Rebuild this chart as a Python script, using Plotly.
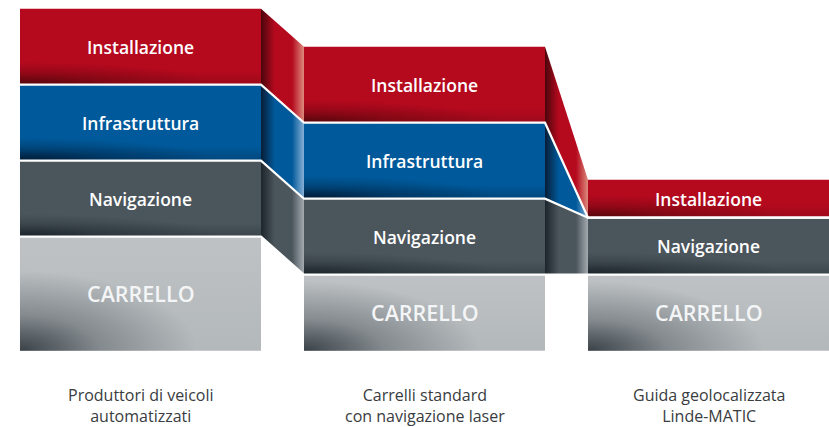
import numpy as np
import plotly.graph_objects as go

# ---------------- data ----------------
columns = [
    "Produttori di veicoli<br>automatizzati",
    "Carrelli standard<br>con navigazione laser",
    "Guida geolocalizzata<br>Linde-MATIC",
]
segments = ["CARRELLO", "Navigazione", "Infrastruttura", "Installazione"]
carrello = [1.5, 1.0, 1.0]
navigazione = [1.0, 1.0, 0.75]
infrastruttura = [1.0, 1.0, 0.0]
installazione = [1.0, 1.0, 0.5]
series = [carrello, navigazione, infrastruttura, installazione]

# ---------------- style ----------------
STYLE = {
    "CARRELLO": dict(base="#bec2c5", bottom="#b3b8bb", glow=(52, 60, 66), glow_a=0.95,
                     rx=0.62, ry=1.05, cdark="#2a3136", clight="#c8ccce"),
    "Navigazione": dict(base="#4b555c", bottom="#3a444b", glow=(22, 32, 38), glow_a=0.9,
                        rx=0.7, ry=0.3, cdark="#1c252b", clight="#a3abb0"),
    "Infrastruttura": dict(base="#00599a", bottom="#00477d", glow=(0, 22, 45), glow_a=0.9,
                           rx=0.7, ry=0.3, cdark="#081d36", clight="#86afd6"),
    "Installazione": dict(base="#b5091e", bottom="#9c0a1a", glow=(78, 5, 10), glow_a=0.9,
                          rx=0.7, ry=0.3, cdark="#4a060c", clight="#dc8a7c"),
}
H = 0.4243          # half bar width (column pitch = 1)
UNIT_PX = 76.0      # vertical pixels per data unit (for shading proportions)


def rgba(rgb, a):
    return "rgba(%d,%d,%d,%.3f)" % (rgb[0], rgb[1], rgb[2], a)


fig = go.Figure()

n = len(columns)
cum = np.zeros(n)
bounds = []  # (bottom array, top array) per segment
for vals in series:
    b = cum.copy()
    t = cum + np.array(vals, dtype=float)
    bounds.append((b, t))
    cum = t

# bars
for k, name in enumerate(segments):
    st = STYLE[name]
    b, t = bounds[k]
    for i in range(n):
        h = t[i] - b[i]
        if h <= 0:
            continue
        L, R = i - H, i + H
        if name == "CARRELLO":
            cs = [[0, st["bottom"]], [1, st["base"]]]
        else:
            frac = min(0.9, (14.0 / UNIT_PX) / h)
            cs = [[0, st["bottom"]], [frac, st["base"]], [1, st["base"]]]
        fig.add_trace(go.Scatter(
            x=[L, R, R, L, L], y=[b[i], b[i], t[i], t[i], b[i]],
            mode="lines", fill="toself", fillcolor=st["base"],
            fillgradient=dict(type="vertical", colorscale=cs),
            line=dict(width=0, color=st["base"]), hoverinfo="skip", showlegend=False))
        # dark corner glow (bottom-left), radial gradient centred on the corner
        rx = min(st["rx"], 2 * H)
        ry = min(st["ry"], h * 0.95) if name != "CARRELLO" else min(st["ry"], h * 0.92)
        xc, yc = L, b[i]
        th = np.linspace(0, np.pi / 2, 30)
        ex = xc + rx * np.cos(th)
        ey = yc + ry * np.sin(th)
        xs = [xc, xc - rx, xc, xc, xc] + list(ex) + [xc]
        ys = [yc, yc, yc, yc - ry, yc] + list(ey) + [yc]
        a = st["glow_a"]
        fig.add_trace(go.Scatter(
            x=xs, y=ys, mode="lines", fill="toself",
            fillcolor=rgba(st["glow"], 0),
            fillgradient=dict(type="radial", colorscale=[
                [0, rgba(st["glow"], a)], [0.45, rgba(st["glow"], a * 0.4)],
                [1, rgba(st["glow"], 0)]]),
            line=dict(width=0, simplify=False), hoverinfo="skip", showlegend=False))

# connectors between columns
for k, name in enumerate(segments):
    if name == "CARRELLO":
        continue
    st = STYLE[name]
    b, t = bounds[k]
    for i in range(n - 1):
        x0, x1 = i + H, i + 1 - H
        if (t[i] - b[i]) <= 0 and (t[i + 1] - b[i + 1]) <= 0:
            continue
        fig.add_trace(go.Scatter(
            x=[x0, x1, x1, x0, x0], y=[b[i], b[i + 1], t[i + 1], t[i], b[i]],
            mode="lines", fill="toself", fillcolor=st["base"],
            fillgradient=dict(type="horizontal", colorscale=[
                [0, st["cdark"]], [0.32, st["base"]], [0.72, st["base"]], [1, st["clight"]]]),
            line=dict(width=0, color=st["base"]), hoverinfo="skip", showlegend=False))

# white separators
for k in range(1, len(segments)):
    b, _ = bounds[k]
    xs, ys = [], []
    for i in range(n):
        xs += [i - H, i + H]
        ys += [b[i], b[i]]
    fig.add_trace(go.Scatter(x=xs, y=ys, mode="lines",
                             line=dict(color="white", width=2.2),
                             hoverinfo="skip", showlegend=False))

# segment labels
for k, name in enumerate(segments):
    b, t = bounds[k]
    for i in range(n):
        if t[i] - b[i] <= 0:
            continue
        big = name == "CARRELLO"
        fig.add_annotation(
            x=i, y=(b[i] + t[i]) / 2, text=name, showarrow=False,
            font=dict(family="Open Sans", size=21.5 if big else 17.5,
                      color="#f4f5f6" if big else "white", weight=600),
            xanchor="center", yanchor="middle")

# column labels
for i, lab in enumerate(columns):
    fig.add_annotation(
        x=i, y=-0.725, text=lab, showarrow=False,
        font=dict(family="Open Sans", size=16, color="#393c40"),
        xanchor="center", yanchor="middle", align="center")

fig.update_layout(
    width=829, height=427, margin=dict(l=0, r=0, t=0, b=0),
    paper_bgcolor="white", plot_bgcolor="white", showlegend=False,
    xaxis=dict(range=[-0.4947, 2.4243], visible=False, fixedrange=True),
    yaxis=dict(range=[-1.0039, 4.6145], visible=False, fixedrange=True),
)

fig.write_html("out.html", config={"displayModeBar": False},
               post_script="document.body.style.margin='0';document.body.style.overflow='hidden';")
